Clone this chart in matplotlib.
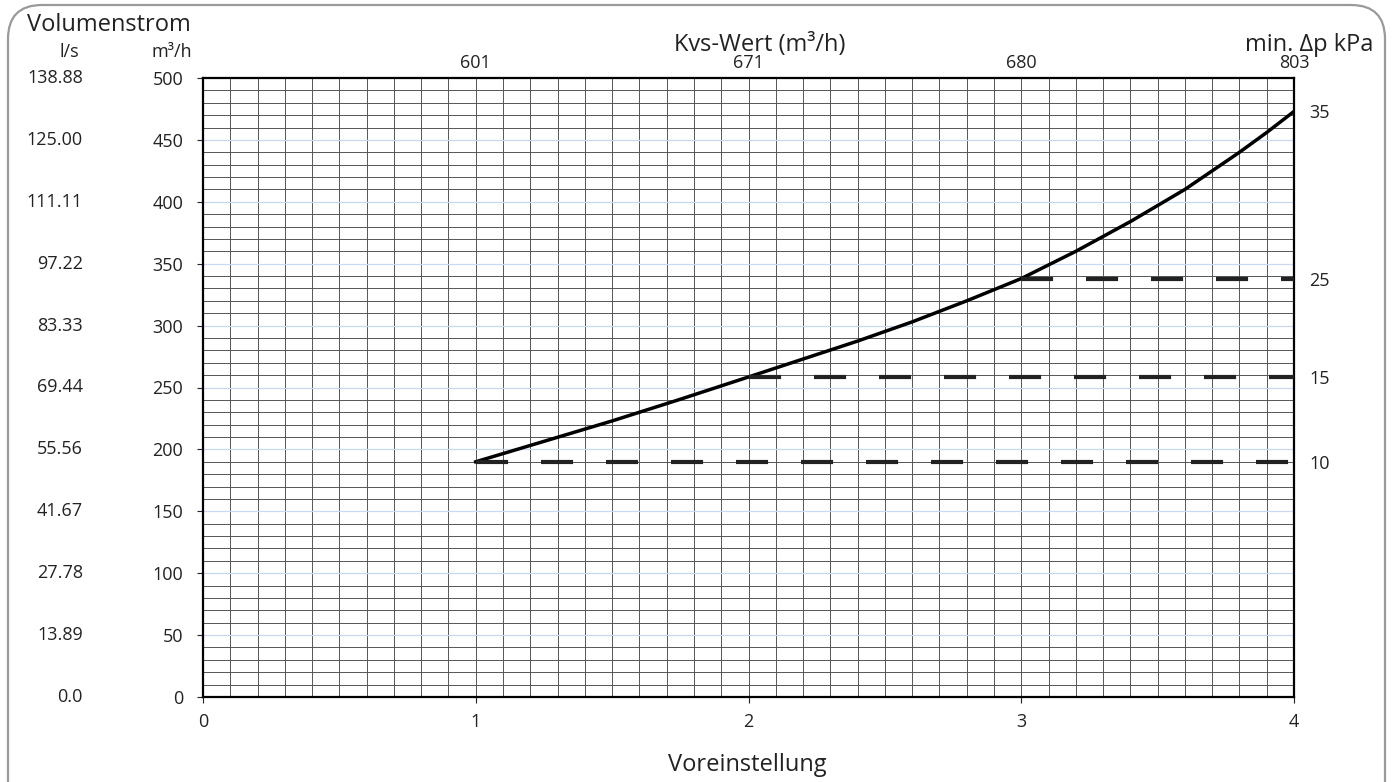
import numpy as np
import matplotlib
matplotlib.use("Agg")
from matplotlib import pyplot as plt
from matplotlib.patches import FancyBboxPatch
import matplotlib.transforms as mtrans

plt.rcParams['font.family'] = ['Open Sans', 'DejaVu Sans']

# Data
curve_x = [1.0, 1.25, 1.5, 1.75, 2.0, 2.2, 2.4, 2.6, 2.8, 3.0, 3.2, 3.4, 3.6, 3.8, 3.9, 4.0]
curve_y = [190, 206.5, 223, 240.5, 258.5, 273, 287.5, 303, 320, 338, 360, 384, 410, 440, 456, 473]

dp_start = [1.0, 2.0, 3.0]
dp_flow = [190, 258.5, 338]

right_ticks = [190, 258.5, 338, 473]
right_labels = ['10', '15', '25', '35']

top_ticks = [1, 2, 3, 4]
top_labels = ['601', '671', '680', '803']

y_ticks = [0, 50, 100, 150, 200, 250, 300, 350, 400, 450, 500]
ls_labels = ['0.0', '13.89', '27.78', '41.67', '55.56', '69.44', '83.33',
             '97.22', '111.11', '125.00', '138.88']

W, H = 1393, 782
fig = plt.figure(figsize=(W/100, H/100), dpi=100)

# rounded border, drawn in pixel coordinates
bg = fig.add_axes([0, 0, 1, 1], zorder=-1)
bg.set_xlim(0, W)
bg.set_ylim(H, 0)
bg.axis('off')
bg.add_patch(FancyBboxPatch((8, 5), 1377, 840, boxstyle='round,pad=0,rounding_size=34',
                            fill=False, edgecolor='#9a9a9a', lw=1.6))

ax = fig.add_axes([203/W, 1-697/H, (1294-203)/W, (697-78)/H])
ax.patch.set_alpha(0)

# Grid
for xv in np.arange(0.1, 4.0, 0.1):
    ax.axvline(xv, color='#555555', lw=0.7, zorder=1)
for yv in range(10, 500, 10):
    if yv % 50 == 0:
        ax.axhline(yv, color='#c8d8f0', lw=0.9, zorder=1)
    else:
        ax.axhline(yv, color='#555555', lw=0.7, zorder=1)

# Curve and dashed lines
ax.plot(curve_x, curve_y, color='black', lw=2.5, zorder=3)
for xs, yv in zip(dp_start, dp_flow):
    ax.plot([xs, 4.0], [yv, yv], color='#222222', lw=3, dashes=(7.7, 7.9), zorder=3)

ax.set_xlim(0, 4)
ax.set_ylim(0, 500)
ax.set_xticks([0, 1, 2, 3, 4])
ax.set_yticks(y_ticks)
ax.tick_params(axis='both', labelsize=13, colors='#222222', length=4.3, width=0.8)
ax.tick_params(axis='x', pad=7)
ax.tick_params(axis='y', pad=10)
for s in ax.spines.values():
    s.set_linewidth(1.6)

# l/s column on the left
trans = mtrans.blended_transform_factory(fig.transFigure, ax.transData)
for yv, lab in zip(y_ticks, ls_labels):
    ax.text(83/W, yv, lab, transform=trans, ha='right', va='center',
            fontsize=13, color='#222222')

# top Kvs axis
axt = ax.twiny()
axt.set_xlim(0, 4)
axt.set_xticks(top_ticks)
axt.set_xticklabels(top_labels)
axt.tick_params(axis='x', length=0, labelsize=13, colors='#222222', pad=4)

# right dp axis
axr = ax.twinx()
axr.set_ylim(0, 500)
axr.set_yticks(right_ticks)
axr.set_yticklabels(right_labels)
axr.tick_params(axis='y', length=0, labelsize=13, colors='#222222', pad=11)
for a in (axt, axr):
    for s in a.spines.values():
        s.set_visible(False)

fig.text(27/W, 1-25/H, 'Volumenstrom', fontsize=17, color='#222222', va='center')
fig.text(69/W, 1-52/H, 'l/s', fontsize=13, color='#222222', ha='center', va='center')
fig.text(172/W, 1-52/H, 'm³/h', fontsize=13, color='#222222', ha='center', va='center')
fig.text(760/W, 1-45/H, 'Kvs-Wert (m³/h)', fontsize=17, color='#222222', ha='center', va='center')
fig.text(1373/W, 1-45/H, 'min. Δp kPa', fontsize=17, color='#222222', ha='right', va='center')
fig.text(747/W, 1-765/H, 'Voreinstellung', fontsize=17, color='#222222', ha='center', va='center')

fig.savefig('out.png', dpi=100)
